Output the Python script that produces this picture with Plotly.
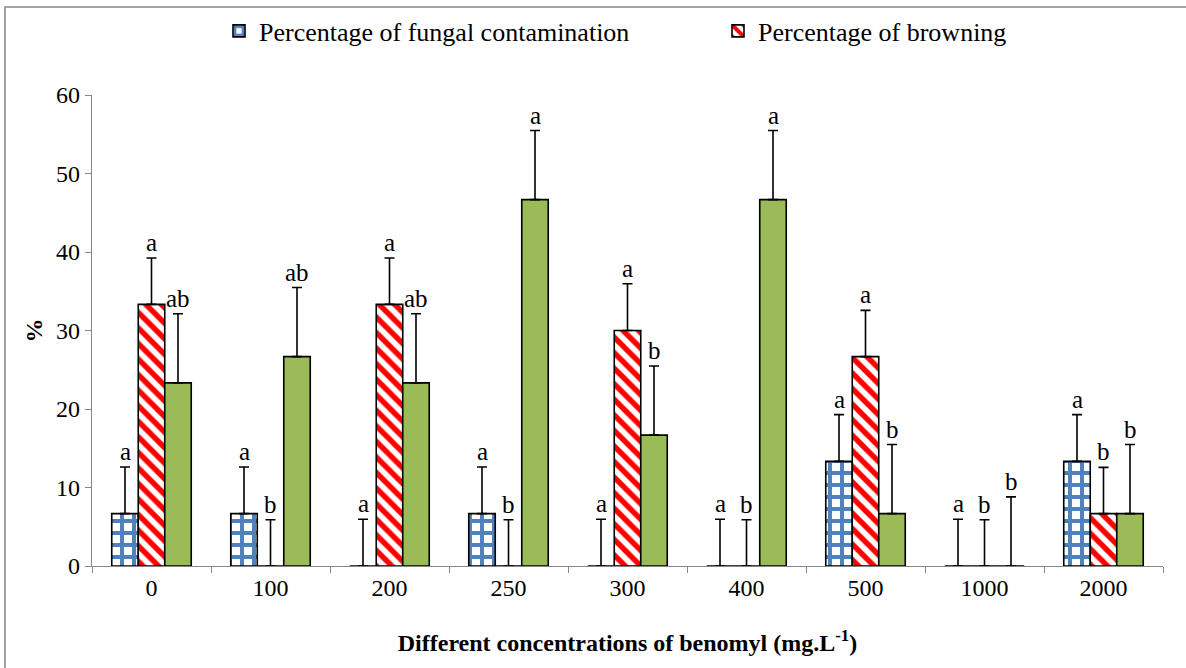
import plotly.graph_objects as go

categories = ["0", "100", "200", "250", "300", "400", "500", "1000", "2000"]
fungal = [6.67, 6.67, 0, 6.67, 0, 0, 13.33, 0, 13.33]
fungal_err = [5.95, 5.95, 5.95, 5.95, 5.95, 5.95, 5.95, 5.95, 5.95]
fungal_letters = ["a", "a", "a", "a", "a", "a", "a", "a", "a"]
browning = [33.33, 0, 33.33, 0, 30.0, 0, 26.67, 0, 6.67]
browning_err = [5.9, 5.9, 5.9, 5.9, 5.95, 5.9, 5.9, 5.9, 5.9]
browning_letters = ["a", "b", "a", "b", "a", "b", "a", "b", "b"]
third = [23.33, 26.67, 23.33, 46.67, 16.67, 46.67, 6.67, 0, 6.67]
third_err = [8.8, 8.8, 8.8, 8.8, 8.8, 8.8, 8.8, 8.8, 8.8]
third_letters = ["ab", "ab", "ab", "a", "b", "a", "b", "b", "b"]

FONT = "Liberation Serif"
bargap = 0.332
bw = (1 - bargap) / 3

fig = go.Figure()

def err(arr):
    return dict(type="data", array=arr, arrayminus=[0] * len(arr), symmetric=False,
                color="black", thickness=1.6, width=5)

fig.add_trace(go.Bar(
    x=categories, y=fungal, name="Percentage of fungal contamination",
    marker=dict(color="white", line=dict(color="black", width=1.6),
                pattern=dict(shape="+", fgcolor="#4F81BD", bgcolor="white", fgopacity=1,
                             size=12, solidity=0.55)),
    error_y=err(fungal_err),
))
fig.add_trace(go.Bar(
    x=categories, y=browning, name="Percentage of browning",
    marker=dict(color="white", line=dict(color="black", width=1.6),
                pattern=dict(shape="\\", fgcolor="#FF0000", bgcolor="white", fgopacity=1,
                             size=11, solidity=0.5)),
    error_y=err(browning_err),
))
fig.add_trace(go.Bar(
    x=categories, y=third, name="Series 3", showlegend=False,
    marker=dict(color="#9BBB59", line=dict(color="black", width=1.6)),
    error_y=err(third_err),
))

annotations = []
for k, (vals, errs, letters) in enumerate([(fungal, fungal_err, fungal_letters),
                                           (browning, browning_err, browning_letters),
                                           (third, third_err, third_letters)]):
    off = (k - 1) * bw
    for i, (v, e, t) in enumerate(zip(vals, errs, letters)):
        annotations.append(dict(
            x=i + off, y=v + e, xref="x", yref="y", text=t, showarrow=False,
            yanchor="bottom", yshift=0, font=dict(family=FONT, size=25, color="black"),
        ))

fig.update_layout(
    width=1186, height=668,
    margin=dict(l=92, r=23, t=95, b=102, autoexpand=False),
    paper_bgcolor="white", plot_bgcolor="white",
    barmode="group", bargap=bargap, bargroupgap=0,
    font=dict(family=FONT, color="black"),
    annotations=annotations,
    legend=dict(orientation="h", x=(219 - 92) / 1071, xanchor="left", y=(565.5 - 31) / 470.5,
                yanchor="middle",
                font=dict(family=FONT, size=26, color="black"),
                entrywidth=454, entrywidthmode="pixels",
                itemwidth=30, bgcolor="rgba(0,0,0,0)"),
    xaxis=dict(
        type="category", showline=True, linecolor="#868686", linewidth=1.3,
        ticks="outside", tickson="boundaries", ticklen=6, tickcolor="#868686", tickwidth=1.3,
        tickfont=dict(family=FONT, size=24, color="black"),
        title=dict(text="<b>Different concentrations of benomyl (mg.L<sup>-1</sup>)</b>",
                   font=dict(family=FONT, size=24, color="black"), standoff=34),
        showgrid=False, zeroline=False,
    ),
    yaxis=dict(
        range=[0, 60], dtick=10, showline=True, linecolor="#868686", linewidth=1.3,
        ticks="outside", ticklen=6, tickcolor="#868686", tickwidth=1.3,
        tickfont=dict(family=FONT, size=24, color="black"),
        title=dict(text="<b>%</b>", font=dict(family=FONT, size=24, color="black"), standoff=6),
        showgrid=False, zeroline=False,
    ),
    shapes=[dict(type="rect", xref="paper", yref="paper",
                 x0=(5 - 92) / 1071, x1=(1200 - 92) / 1071,
                 y0=(565.5 - 690) / 470.5, y1=(565.5 - 7) / 470.5,
                 line=dict(color="#868686", width=1.5), fillcolor="rgba(0,0,0,0)", layer="below")],
)

fig.write_html("out.html", config={"displayModeBar": False},
               post_script="document.body.style.margin='0';document.body.style.overflow='hidden';")
